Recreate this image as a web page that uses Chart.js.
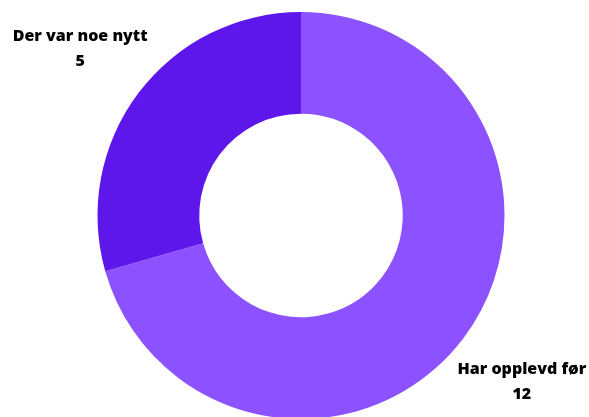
<!DOCTYPE html>
<html>
<head>
<meta charset="utf-8">
<script src="https://cdn.jsdelivr.net/npm/chart.js@4.4.1/dist/chart.umd.min.js"></script>
<style>
    html, body { margin: 0; padding: 0; background: #ffffff; overflow: hidden; width: 589px; height: 417px; }
    #wrap { position: absolute; left: 0; top: 0; width: 602px; height: 431px; }
</style>
</head>
<body>
<div id="wrap"><canvas id="donut"></canvas></div>
<script>
// Answers and counts
const labels = ['Har opplevd før', 'Der var noe nytt'];
const values = [12, 5];
const colors = ['#8c52ff', '#5e17eb'];

// Draw the category name with its count outside each slice
const outsideLabels = {
    id: 'outsideLabels',
    afterDatasetsDraw(chart) {
        const ctx = chart.ctx;
        const meta = chart.getDatasetMeta(0);
        ctx.save();
        ctx.fillStyle = '#000000';
        ctx.textAlign = 'center';
        ctx.textBaseline = 'middle';
        ctx.font = '800 16px "Open Sans"';
        meta.data.forEach((arc, i) => {
            const mid = (arc.startAngle + arc.endAngle) / 2;
            const r = arc.outerRadius * 1.36;
            const x = arc.x + Math.cos(mid) * r;
            const y = arc.y + Math.sin(mid) * r;
            ctx.fillText(chart.data.labels[i], x, y - 12.5);
            ctx.fillText(String(chart.data.datasets[0].data[i]), x, y + 12.5);
        });
        ctx.restore();
    }
};

new Chart(document.getElementById('donut').getContext('2d'), {
    type: 'doughnut',
    data: {
        labels: labels,
        datasets: [{
            data: values,
            backgroundColor: colors,
            borderWidth: 0
        }]
    },
    options: {
        responsive: true,
        maintainAspectRatio: false,
        animation: false,
        cutout: '50%',
        layout: { padding: { top: 12, bottom: 12 } },
        plugins: {
            legend: { display: false },
            tooltip: { enabled: false }
        }
    },
    plugins: [outsideLabels]
});
</script>
</body>
</html>
